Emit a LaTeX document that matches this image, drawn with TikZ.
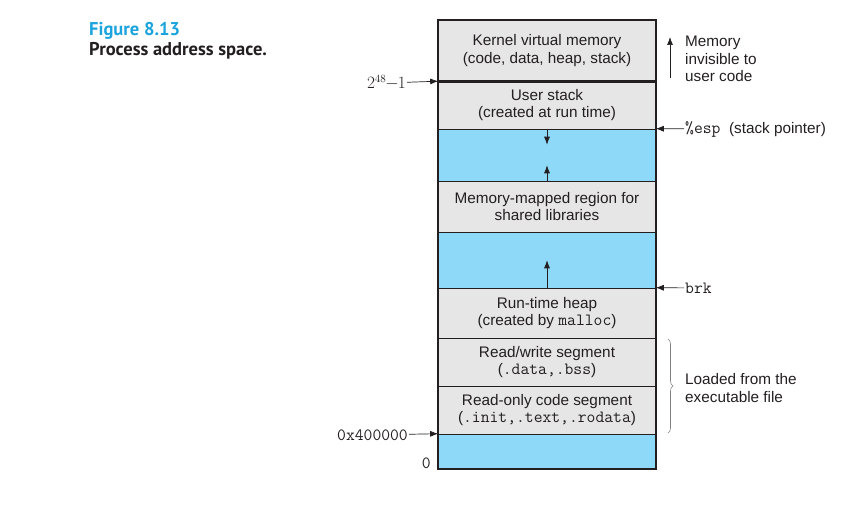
\documentclass[tikz,border=0pt]{standalone}
\usepackage{fontspec}
\setmainfont{Liberation Sans}
\setmonofont{Latin Modern Mono}[Scale=1.12]
\newfontfamily\titlefont{PT Sans}
\usetikzlibrary{arrows.meta,decorations.pathreplacing}
\definecolor{segGray}{HTML}{E6E6E6}
\definecolor{segBlue}{HTML}{8ED8F8}
\definecolor{figCyan}{HTML}{1AA3DD}
\definecolor{inkDark}{HTML}{231F20}
\newcommand{\boxfont}{\fontsize{15.3}{17.5}\selectfont}
\tikzset{seg/.style={draw=inkDark, line width=0.6pt, minimum width=217pt, inner sep=0pt, align=center, font=\boxfont, text=inkDark},
  grayseg/.style={seg, fill=segGray},
  blueseg/.style={seg, fill=segBlue},
  lbl/.style={font=\boxfont, text=inkDark, inner sep=1pt},
  ptr/.style={-{Latex[length=8pt,width=6pt]}, line width=0.7pt, draw=inkDark}}

\begin{document}
\begin{tikzpicture}[x=1pt,y=-1pt]
\useasboundingbox (0,0) rectangle (849,510);
% title
\node[anchor=west, inner sep=0pt, font=\titlefont\fontsize{18.5}{21}\selectfont\bfseries, text=figCyan] (fig) at (89,31) {Figure 8.13};
\node[anchor=west, inner sep=0pt, font=\titlefont\fontsize{18.5}{21}\selectfont\bfseries, text=inkDark] (cap) at (89,51) {Process address space.};

% address space segments
\path (547,50.75) node[grayseg, minimum height=61.5pt](kernel){Kernel virtual memory\\(code, data, heap, stack)};
\path (547,105.25) node[grayseg, minimum height=47.5pt](ustack){User stack\\(created at run time)};
\path (547,155) node[blueseg, minimum height=52pt](gapa){};
\path (547,206.5) node[grayseg, minimum height=51pt](mmap){Memory-mapped region for\\shared libraries};
\path (547,260) node[blueseg, minimum height=56pt](gapb){};
\path (547,313) node[grayseg, minimum height=50pt](heap){Run-time heap\\(created by \texttt{malloc})};
\path (547,362) node[grayseg, minimum height=48pt](rwseg){Read/write segment\\(\texttt{.data,.bss})};
\path (547,410) node[grayseg, minimum height=48pt](roseg){Read-only code segment\\(\texttt{.init,.text,.rodata})};
\path (547,451.5) node[blueseg, minimum height=35pt](bottom){};
\draw[line width=2pt, draw=inkDark] (kernel.north west) rectangle (bottom.south east);
\draw[line width=3pt, draw=inkDark] (kernel.south west) -- (kernel.south east);

% growth arrows
\draw[ptr] (gapa.north) -- ++(0,16);
\draw[ptr] (gapa.south) -- ++(0,-16);
\draw[ptr] (gapb.south) -- ++(0,-28);

% left side addresses
\node[lbl, anchor=east, font=\fontsize{16}{18}\selectfont] (top48) at (407,83) {$2^{48}$\kern-1pt$-$\kern-1pt$1$};
\draw[ptr] (top48) -- (ustack.north west);
\node[lbl, anchor=east] (low) at (409,435) {\ttfamily 0x400000};
\draw[ptr] (low) -- (bottom.north west);
\node[lbl, anchor=east] (zero) at (432,463) {\ttfamily 0};

% right side pointers
\node[lbl, anchor=west] (esp) at (684,129) {\texttt{\%esp}\ \ (stack pointer)};
\draw[ptr] (esp) -- (gapa.north east);
\node[lbl, anchor=west] (brk) at (684,288) {\texttt{brk}};
\draw[ptr] (brk) -- (heap.north east);

% kernel note
\node[lbl, anchor=west, align=left] (invis) at (684,59) {Memory\\invisible to\\user code};
\coordinate (invlo) at (670,78);
\coordinate (invhi) at (670,37);
\draw[ptr] (invlo) -- (invhi);

% loaded from file
\draw[draw=gray, line width=0.6pt, decorate, decoration={brace, amplitude=5pt}] (668,339) -- (668,433);
\node[lbl, anchor=west, align=left] (loaded) at (684,388) {Loaded from the\\executable file};
\end{tikzpicture}
\end{document}
